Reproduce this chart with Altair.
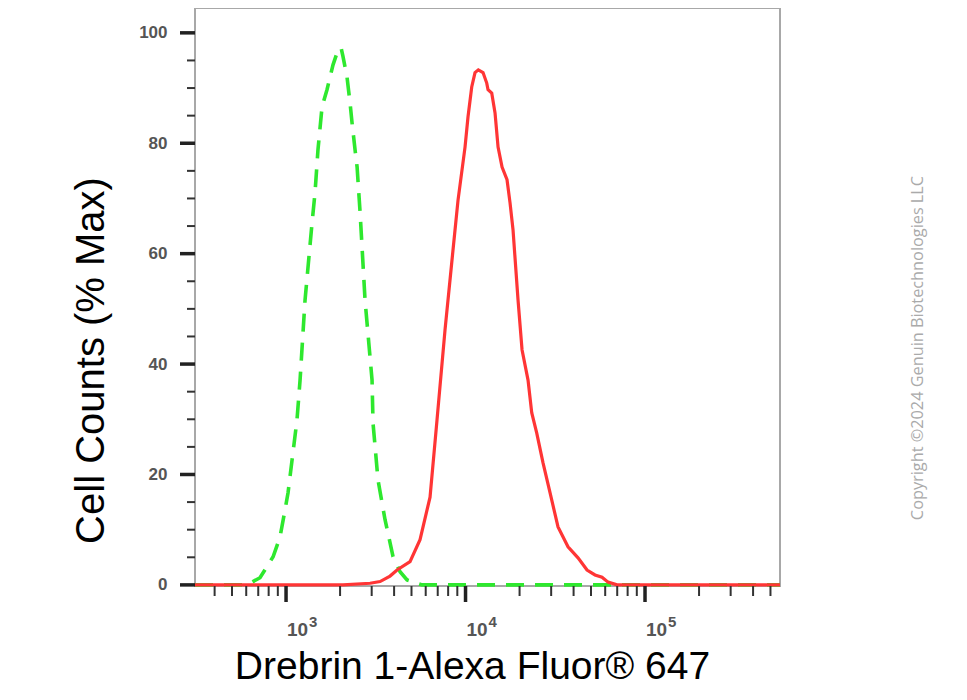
import altair as alt
import pandas as pd

# ---- data (x: fluorescence intensity, y: % max) ----
green_x = [311, 576, 646, 716, 847, 926, 987, 1026, 1080, 1151, 1197, 1276, 1396, 1450,
           1506, 1587, 1691, 1827, 1949, 2025, 2077, 2186, 2273, 2332, 2424, 2488, 2584,
           2755, 3014, 3052, 3254, 3561, 3946, 4317, 4722, 5725, 565000]
green_y = [0, 0, 0.5, 1.3, 5.1, 8.7, 13.6, 16.7, 22.6, 29.9, 37.1, 51.6, 65.6, 71.0,
           78.8, 86.6, 89.7, 94.2, 96.9, 97.3, 95.7, 92.0, 87.3, 83.7, 78.8, 75.7, 67.6,
           51.6, 37.1, 29.3, 19.0, 11.8, 5.1, 2.4, 0.9, 0, 0]

red_x = [311, 1197, 2077, 2938, 3340, 3797, 4154, 4907, 5579, 6343, 6937, 7687, 8410,
         9083, 9936, 10325, 10827, 11294, 11784, 12517, 13127, 13347, 13996, 14601,
         15179, 15976, 17028, 17700, 18393, 19614, 20645, 22296, 23378, 24934, 27029,
         29563, 32758, 37239, 42336, 47528, 52651, 57600, 62216, 69823, 565000]
red_y = [0, 0, 0, 0.3, 0.6, 1.6, 2.7, 4.2, 8.2, 15.9, 29.9, 46.2, 58.9,
         69.7, 79.3, 84.8, 90.2, 92.8, 93.3, 92.8, 90.9, 89.7, 89.1, 85.5,
         79.3, 75.7, 73.4, 69.2, 64.3, 51.6, 42.6, 37.1, 31.2, 27.5, 22.1,
         16.7, 10.5, 6.9, 4.9, 2.7, 1.8, 1.4, 0.5, 0, 0]

x_major = [1000, 10000, 100000]
x_major_base = ["10", "10", "10"]
x_major_exp = ["3", "4", "5"]
x_minor = [400, 500, 600, 700, 800, 900,
           2000, 3000, 4000, 5000, 6000, 7000, 8000, 9000,
           20000, 30000, 40000, 50000, 60000, 70000, 80000, 90000,
           200000, 300000, 400000, 500000]
y_major = [0, 20, 40, 60, 80, 100]
y_minor = [5, 10, 15, 25, 30, 35, 45, 50, 55, 65, 70, 75, 85, 90, 95]

x_title = "Drebrin 1-Alexa Fluor® 647"
y_title = "Cell Counts (% Max)"
copyright_text = "Copyright ©2024 Genuin Biotechnologies LLC"

# ---- tables ----
df_green = pd.DataFrame({"x": green_x, "y": green_y})
df_red = pd.DataFrame({"x": red_x, "y": red_y})
df_xmaj = pd.DataFrame({"x": x_major, "base": x_major_base, "exp": x_major_exp})
df_xmin = pd.DataFrame({"x": x_minor})
df_ymaj = pd.DataFrame({"y": y_major})
df_ymin = pd.DataFrame({"y": y_minor})
df_copy = pd.DataFrame({"t": [copyright_text]})

W, H = 585, 578
FONT = "Liberation Sans"

xscale = alt.Scale(type="log", domain=[311, 565000], nice=False)
yscale = alt.Scale(domain=[-0.2, 104.5], nice=False, zero=False)

xaxis = alt.Axis(
    values=x_major, labels=False, ticks=False, tickSize=0, domain=False, grid=False,
    title=x_title, titleFont=FONT, titleFontSize=39, titleFontWeight="normal",
    titleColor="#000000", titleX=277, titleY=92, titleAlign="center",
    titleBaseline="alphabetic",
)
yaxis = alt.Axis(
    values=y_major, ticks=False, tickSize=0, domain=False, grid=False,
    labelFont=FONT, labelFontSize=17, labelColor="#555555", labelFontWeight="bold",
    labelPadding=28,
    title=y_title, titleFont=FONT, titleFontSize=40, titleFontWeight="normal",
    titleColor="#000000", titleAngle=270, titleX=-104, titleY=352,
    titleAlign="center", titleBaseline="middle",
)

X = alt.X("x:Q", scale=xscale, axis=xaxis)
Y = alt.Y("y:Q", scale=yscale, axis=yaxis)

green = alt.Chart(df_green).mark_line(
    color="#2ee82e", strokeWidth=3.6, strokeDash=[18, 11]
).encode(x=X, y=Y)
red = alt.Chart(df_red).mark_line(color="#ff3535", strokeWidth=3.2).encode(x=X, y=Y)

xmaj_ticks = alt.Chart(df_xmaj).mark_rule(color="#222222", strokeWidth=3.5).encode(
    x=X, y=alt.value(H), y2=alt.value(H + 16),
)
xmin_ticks = alt.Chart(df_xmin).mark_rule(color="#333333", strokeWidth=2).encode(
    x=X, y=alt.value(H), y2=alt.value(H + 10),
)
ymaj_ticks = alt.Chart(df_ymaj).mark_rule(color="#222222", strokeWidth=3.5).encode(
    y=Y, x=alt.value(-15), x2=alt.value(0),
)
ymin_ticks = alt.Chart(df_ymin).mark_rule(color="#333333", strokeWidth=2).encode(
    y=Y, x=alt.value(-8), x2=alt.value(0),
)

xlab_base = alt.Chart(df_xmaj).mark_text(
    font=FONT, fontSize=19, fontWeight="bold", color="#555555",
    align="left", baseline="alphabetic", dx=1,
).encode(x=X, y=alt.value(H + 50), text="base:N")
xlab_exp = alt.Chart(df_xmaj).mark_text(
    font=FONT, fontSize=15, fontWeight="bold", color="#555555",
    align="left", baseline="alphabetic", dx=23, dy=-9,
).encode(x=X, y=alt.value(H + 50), text="exp:N")

copy = alt.Chart(df_copy).mark_text(
    angle=270, font="Open Sans", fontSize=16.3, color="#aaaaaa",
    align="center", baseline="middle",
).encode(x=alt.value(723), y=alt.value(340), text="t:N")

chart = alt.layer(
    green, red, xmaj_ticks, xmin_ticks, ymaj_ticks, ymin_ticks,
    xlab_base, xlab_exp, copy
).properties(
    width=W, height=H,
    autosize=alt.AutoSizeParams(type="none"),
    padding={"left": 187, "top": 0, "right": 170, "bottom": 106},
    background="white",
).configure_view(stroke="#a8a8a8", strokeWidth=2)

chart.save("out.html", embed_options={"renderer": "svg", "actions": False})
